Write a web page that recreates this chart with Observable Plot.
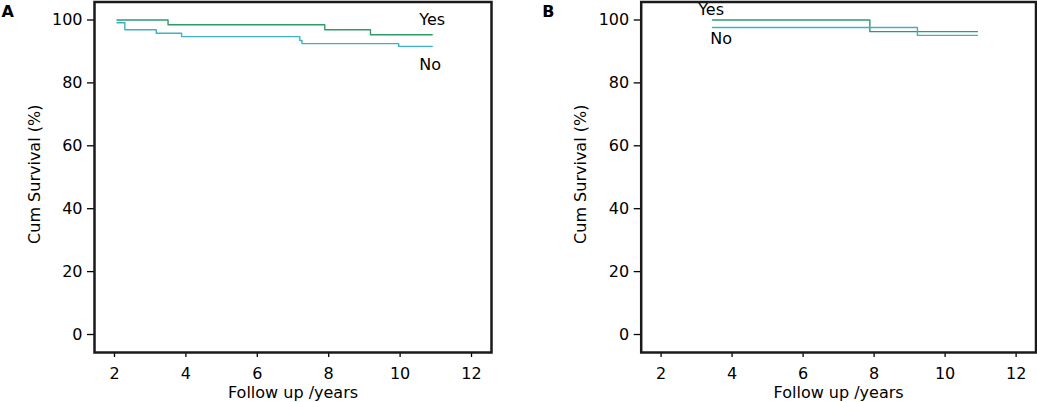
<!DOCTYPE html>
<html><head><meta charset="utf-8">
<script src="https://cdn.jsdelivr.net/npm/d3@7"></script>
<script src="https://cdn.jsdelivr.net/npm/@observablehq/plot@0.6"></script>
<style>
body{margin:0;background:#fff;}
#wrap{position:relative;width:1037px;height:402px;overflow:hidden;background:#fff;}
#wrap svg{position:absolute;top:0;}
</style></head><body><div id="wrap"></div>
<script>
// ---- data ----
const groups = ["Yes", "No"];
const yTicks = [0, 20, 40, 60, 80, 100];
const xTicks = [2, 4, 6, 8, 10, 12];
const xLabel = "Follow up /years";
const yLabel = "Cum Survival (%)";
const panelLetters = ["A", "B"];

// Panel A
const aYesTime = [2.07, 3.50, 7.89, 9.17, 10.90];
const aYesSurv = [100, 98.5, 96.9, 95.3, 95.3];
const aNoTime = [2.07, 2.29, 3.17, 3.88, 7.19, 7.25, 9.96, 10.90];
const aNoSurv = [99.1, 96.9, 95.8, 94.7, 93.5, 92.5, 91.6, 91.6];
// Panel B
const bYesTime = [3.45, 7.88, 10.91];
const bYesSurv = [100, 96.3, 96.3];
const bNoTime = [3.45, 9.22, 10.91];
const bNoSurv = [97.6, 95.1, 95.1];

const colors = {Yes: "#2f9a6b", No: "#3cb2c8"};
const FONT = "'DejaVu Sans', sans-serif";

function series(group, times, surv) {
  return times.map((t, i) => ({group, t, s: surv[i]}));
}

function panel({letter, yes, no, left, width, marginLeft, marginRight, labelPick, yesOff, noOff, letterDx}) {
  const data = [...yes, ...no];
  const pick = arr => labelPick === "last" ? arr[arr.length - 1] : arr[0];
  const p = Plot.plot({
    width, height: 402,
    marginLeft, marginRight, marginTop: 1.5, marginBottom: 50,
    style: {fontFamily: FONT, fontSize: "16px", color: "black", background: "transparent", overflow: "visible"},
    x: {domain: [1.44, 12.56]},
    y: {domain: [-5.72, 105.72]},
    marks: [
      Plot.axisY(yTicks, {tickSize: 7, tickPadding: 5, label: null, strokeWidth: 1.3, fontSize: 16}),
      Plot.axisX(xTicks, {tickSize: 5, tickPadding: 10, label: null, strokeWidth: 1.3, fontSize: 16}),
      Plot.line(data, {x: "t", y: "s", z: "group", stroke: d => colors[d.group], curve: "step-after", strokeWidth: 1.4}),
      Plot.text([pick(yes)], {x: "t", y: "s", text: () => groups[0], dx: yesOff[0], dy: yesOff[1], fontSize: 16}),
      Plot.text([pick(no)], {x: "t", y: "s", text: () => groups[1], dx: noOff[0], dy: noOff[1], fontSize: 16}),
      Plot.text([yLabel], {text: d => d, frameAnchor: "left", textAnchor: "middle", lineAnchor: "middle", rotate: -90, dx: -60, dy: -3, fontSize: 16}),
      Plot.text([xLabel], {text: d => d, frameAnchor: "bottom", textAnchor: "middle", lineAnchor: "middle", dy: 40, fontSize: 16}),
      Plot.text([letter], {text: d => d, frameAnchor: "top-left", textAnchor: "start", lineAnchor: "top", dx: letterDx, dy: 3.8, fontSize: 16, fontWeight: "bold"}),
      Plot.frame({stroke: "#1a1a1a", strokeWidth: 2.5})
    ]
  });
  p.style.left = left + "px";
  document.getElementById("wrap").appendChild(p);
}

panel({
  letter: panelLetters[0],
  yes: series("Yes", aYesTime, aYesSurv),
  no: series("No", aNoTime, aNoSurv),
  left: 0, width: 520, marginLeft: 94, marginRight: 29,
  labelPick: "last", yesOff: [0, -15], noOff: [-2, 18], letterDx: -93
});
panel({
  letter: panelLetters[1],
  yes: series("Yes", bYesTime, bYesSurv),
  no: series("No", bNoTime, bNoSurv),
  left: 520, width: 517, marginLeft: 120.7, marginRight: 1.5,
  labelPick: "first", yesOff: [-1.5, -10], noOff: [8.5, 11.7], letterDx: -99
});
</script>
</body></html>
